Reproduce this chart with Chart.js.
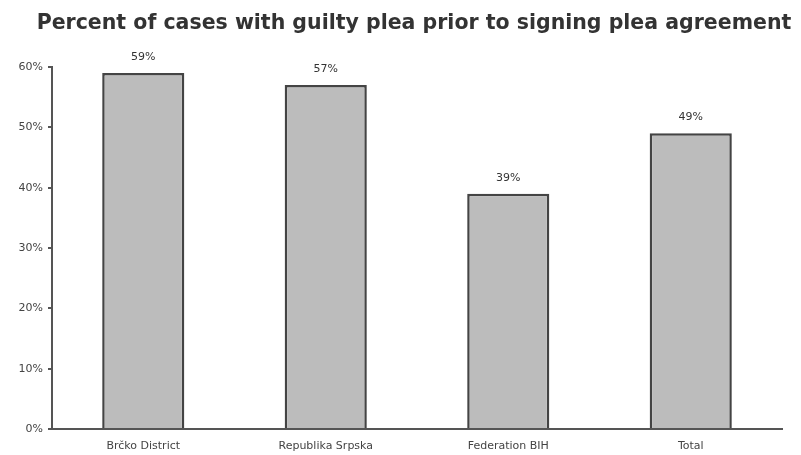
<!DOCTYPE html>
<html>
<head>
<meta charset="utf-8">
<script src="https://cdn.jsdelivr.net/npm/chart.js@4"></script>
<style>
  html, body { margin: 0; padding: 0; background: #fff; }
  #wrap { width: 801px; height: 455px; }
</style>
</head>
<body>
<div id="wrap"><canvas id="grafico"></canvas></div>
<script>
const categorias = ['Brčko District', 'Republika Srpska', 'Federation BIH', 'Total'];
const percentuais = [59, 57, 39, 49];
const tituloTexto = 'Percent of cases with guilty plea prior to signing plea agreement';

const fonteBase = 'Verdana, "DejaVu Sans", sans-serif';

// titulo desenhado a mao, um pouco deslocado para a direita como no original
const tituloPlugin = {
  id: 'tituloManual',
  afterDraw(chart) {
    const { ctx } = chart;
    ctx.save();
    ctx.font = 'bold 20.5px ' + fonteBase;
    ctx.fillStyle = '#333';
    ctx.textAlign = 'center';
    ctx.textBaseline = 'middle';
    ctx.fillText(tituloTexto, 414, 24);
    ctx.restore();
  }
};

// rotulos de valor acima das barras
const rotulosPlugin = {
  id: 'rotulos',
  afterDatasetsDraw(chart) {
    const { ctx } = chart;
    const meta = chart.getDatasetMeta(0);
    ctx.save();
    ctx.font = '11px ' + fonteBase;
    ctx.fillStyle = '#333';
    ctx.textAlign = 'center';
    ctx.textBaseline = 'middle';
    meta.data.forEach((bar, i) => {
      ctx.fillText(percentuais[i] + '%', bar.x, bar.y - 16);
    });
    ctx.restore();
  }
};

new Chart(document.getElementById('grafico'), {
  type: 'bar',
  data: {
    labels: categorias,
    datasets: [{
      data: percentuais,
      backgroundColor: '#bcbcbc',
      borderColor: '#444',
      borderWidth: 2.5,
      categoryPercentage: 1,
      barPercentage: 0.45
    }]
  },
  options: {
    responsive: true,
    maintainAspectRatio: false,
    animation: false,
    layout: { padding: { left: 0, right: 19, top: 67, bottom: 0 } },
    plugins: {
      legend: { display: false },
      tooltip: { enabled: false },
      title: { display: false }
    },
    scales: {
      x: {
        grid: { display: false },
        border: { display: true, color: '#555', width: 2 },
        ticks: { color: '#444', font: { family: fonteBase, size: 11 }, padding: 3 },
        afterFit(scale) { scale.height = 26; }
      },
      y: {
        min: 0,
        max: 60,
        ticks: {
          stepSize: 10,
          color: '#444',
          font: { family: fonteBase, size: 11 },
          padding: 5,
          callback: v => v + '%'
        },
        grid: { drawOnChartArea: false, drawTicks: true, tickLength: 4, color: '#555', lineWidth: 2 },
        border: { display: true, color: '#555', width: 2 },
        afterFit(scale) { scale.width = 52; }
      }
    }
  },
  plugins: [tituloPlugin, rotulosPlugin]
});
</script>
</body>
</html>
